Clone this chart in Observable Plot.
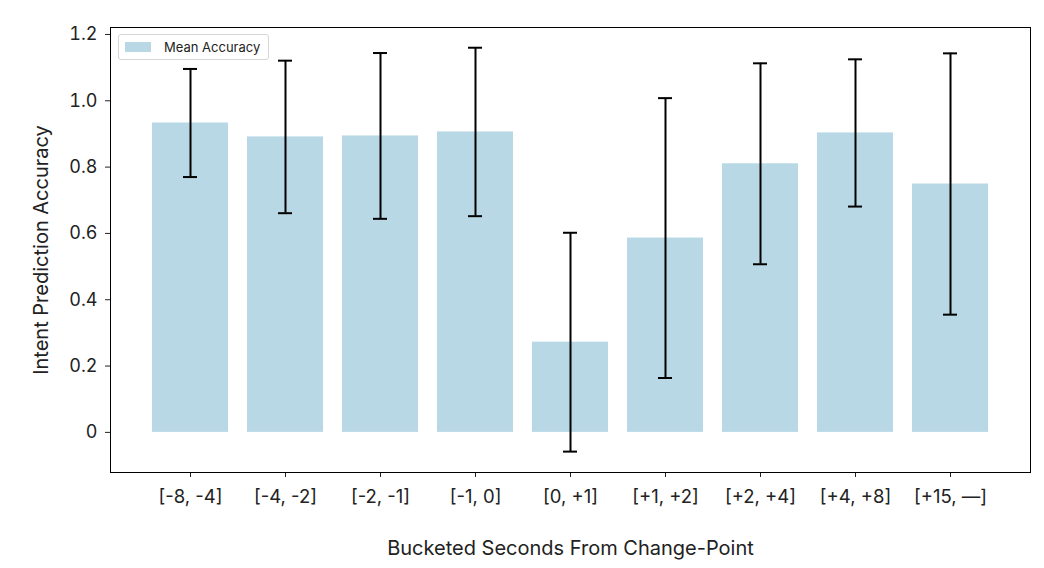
<!DOCTYPE html>
<html>
<head>
<meta charset="utf-8">
<script src="https://cdn.jsdelivr.net/npm/d3@7"></script>
<script src="https://cdn.jsdelivr.net/npm/@observablehq/plot@0.6"></script>
<style>
  html, body { margin: 0; padding: 0; background: #fff; }
  #wrap { position: relative; width: 1044px; height: 568px; font-family: Inter, "Noto Sans", sans-serif; }
  #legend { position: absolute; left: 118px; top: 34px; height: 24px; padding: 0 8px 0 6px; border: 1px solid #d6d6d6; border-radius: 3px; background: rgba(255,255,255,0.85); display: flex; align-items: center; font-size: 13px; color: #222; }
  #legend .sw { width: 26px; height: 10px; background: #b7d8e4; margin-right: 13px; }
</style>
</head>
<body>
<div id="wrap"><div id="legend"><span class="sw"></span><span>Mean Accuracy</span></div></div>
<script>
const categories = ["[-8, -4]", "[-4, -2]", "[-2, -1]", "[-1, 0]", "[0, +1]", "[+1, +2]", "[+2, +4]", "[+4, +8]", "[+15, —]"];
const meanAccuracy = [0.933, 0.891, 0.894, 0.906, 0.272, 0.586, 0.810, 0.903, 0.749];
const errorSize = [0.163, 0.230, 0.250, 0.254, 0.330, 0.422, 0.303, 0.222, 0.394];
const yTicks = [0, 0.2, 0.4, 0.6, 0.8, 1.0, 1.2];

const data = categories.map((c, i) => ({
  cat: c, mean: meanAccuracy[i], lo: meanAccuracy[i] - errorSize[i], hi: meanAccuracy[i] + errorSize[i]
}));

const chart = Plot.plot({
  width: 1044,
  height: 568,
  marginLeft: 110,
  marginRight: 14,
  marginTop: 27,
  marginBottom: 96,
  style: { fontFamily: "Inter, 'Noto Sans', sans-serif", fontSize: "18px", color: "#222", background: "#fff" },
  x: { domain: categories, paddingInner: 0.2, paddingOuter: 0.44 },
  y: { domain: [-0.121, 1.221] },
  marks: [
    Plot.barY(data, { x: "cat", y: "mean", fill: "#b7d8e4" }),
    Plot.ruleX(data, { x: "cat", y1: "lo", y2: "hi", stroke: "#000", strokeWidth: 2 }),
    Plot.tickY(data, { x: "cat", y: "lo", stroke: "#000", strokeWidth: 2, insetLeft: 31, insetRight: 31 }),
    Plot.tickY(data, { x: "cat", y: "hi", stroke: "#000", strokeWidth: 2, insetLeft: 31, insetRight: 31 }),
    Plot.axisY({ ticks: yTicks, tickFormat: d => d === 0 ? "0" : d.toFixed(1), tickSize: 5, tickPadding: 8, fontSize: 18,
      label: null }),
    Plot.axisY({ ticks: [], tickSize: 0, fontSize: 20,
      label: "Intent Prediction Accuracy", labelAnchor: "center", labelArrow: "none", labelOffset: 77 }),
    Plot.axisX({ tickSize: 5, tickPadding: 12, fontSize: 18.5, label: null }),
    Plot.axisX({ ticks: [], tickSize: 0, fontSize: 20,
      label: "Bucketed Seconds From Change-Point", labelAnchor: "center", labelArrow: "none", labelOffset: 82 }),
    Plot.frame({ stroke: "#000", strokeWidth: 1 })
  ]
});
document.getElementById("wrap").prepend(chart);
</script>
</body>
</html>
